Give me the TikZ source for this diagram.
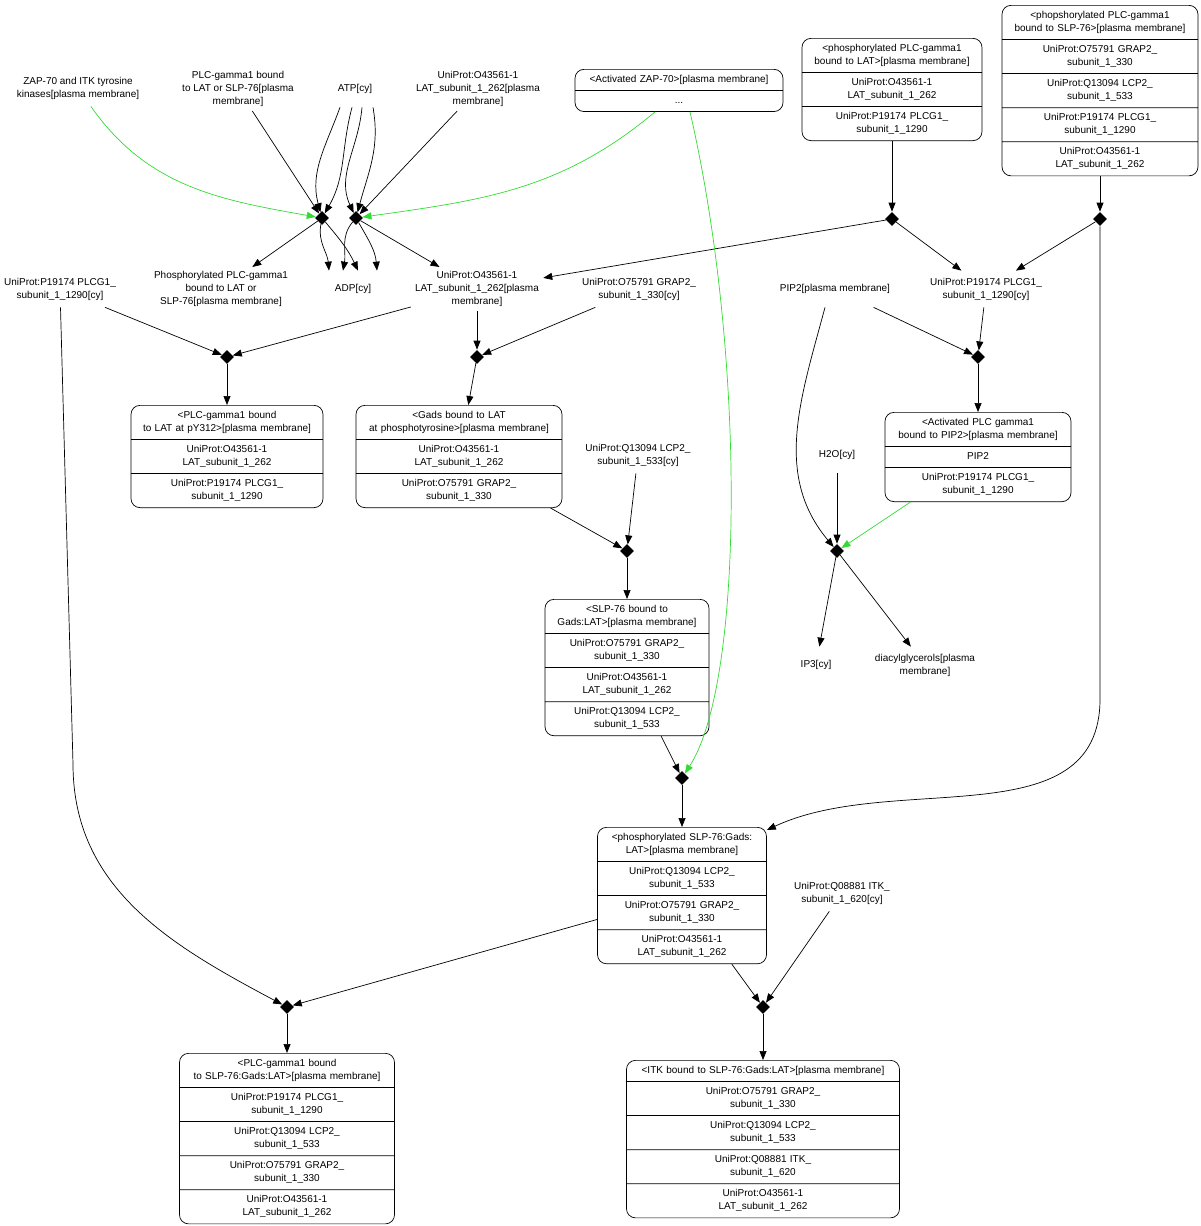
\documentclass[tikz,border=0pt]{standalone}
\usepackage{fontspec}
\setmainfont{Liberation Sans}
\usetikzlibrary{shapes.geometric, shapes.multipart, arrows.meta}
\definecolor{catgreen}{RGB}{50,220,50}
\tikzstyle{every node}=[font=\fontsize{10}{13}\selectfont]
\tikzstyle{lbl}=[align=center, inner sep=4pt, minimum height=36pt]
\tikzstyle{rxn}=[diamond, fill=black, inner sep=0pt, minimum size=14pt]
\tikzstyle{cplx}=[draw, rectangle split, rounded corners=9pt, align=center, inner xsep=0pt, inner ysep=3.7pt, anchor=north]
\tikzstyle{act}=[catgreen]
\newcommand{\rw}[1]{\strut#1\strut}

\begin{document}
\begin{tikzpicture}[>={Triangle[length=9pt,width=7pt]}, x=1pt, y=1pt, line width=0.7pt]
    \useasboundingbox (0,0) rectangle (1200,-1226);
    \node[lbl] (zap) at (78,-88) {ZAP-70 and ITK tyrosine\\kinases[plasma membrane]};
    \node[lbl] (plcbound) at (238,-89) {PLC-gamma1 bound\\to LAT or SLP-76[plasma\\membrane]};
    \node[lbl] (atp) at (355,-89) {ATP[cy]};
    \node[lbl] (lat1) at (478,-89) {UniProt:O43561-1\\LAT\_subunit\_1\_262[plasma\\membrane]};
    \node[cplx, rectangle split parts=2, text width=208pt] (zap70) at (679,-69)
        {\rw{<Activated ZAP-70>[plasma membrane]}\nodepart{two}\rw{...}};
    \node[cplx, rectangle split parts=3, text width=180pt] (plclat) at (892,-38)
        {\rw{<phosphorylated PLC-gamma1\\bound to LAT>[plasma membrane]}
         \nodepart{two}\rw{UniProt:O43561-1\\LAT\_subunit\_1\_262}
         \nodepart{three}\rw{UniProt:P19174 PLCG1\_\\subunit\_1\_1290}};
    \node[cplx, rectangle split parts=5, text width=196pt] (plcslp) at (1100,-5)
        {\rw{<phopshorylated PLC-gamma1\\bound to SLP-76>[plasma membrane]}
         \nodepart{two}\rw{UniProt:O75791 GRAP2\_\\subunit\_1\_330}
         \nodepart{three}\rw{UniProt:Q13094 LCP2\_\\subunit\_1\_533}
         \nodepart{four}\rw{UniProt:P19174 PLCG1\_\\subunit\_1\_1290}
         \nodepart{five}\rw{UniProt:O43561-1\\LAT\_subunit\_1\_262}};

    \node[rxn] (d1) at (322,-218) {};
    \node[rxn] (d2) at (356,-218) {};
    \node[rxn] (d3) at (892,-219) {};
    \node[rxn] (d4) at (1100,-219) {};

    \node[lbl] (plcg1a) at (60,-289) {UniProt:P19174 PLCG1\_\\subunit\_1\_1290[cy]};
    \node[lbl] (pplc) at (221,-289) {Phosphorylated PLC-gamma1\\bound to LAT or\\SLP-76[plasma membrane]};
    \node[lbl] (adp) at (353,-289) {ADP[cy]};
    \node[lbl] (lat2) at (477,-289) {UniProt:O43561-1\\LAT\_subunit\_1\_262[plasma\\membrane]};
    \node[lbl] (grap2a) at (639,-289) {UniProt:O75791 GRAP2\_\\subunit\_1\_330[cy]};
    \node[lbl] (pip2) at (835,-289) {PIP2[plasma membrane]};
    \node[lbl] (plcg1b) at (986,-289) {UniProt:P19174 PLCG1\_\\subunit\_1\_1290[cy]};

    \node[rxn] (d5) at (227,-357) {};
    \node[rxn] (d6) at (477,-357) {};
    \node[rxn] (d8) at (978,-357) {};

    \node[cplx, rectangle split parts=3, text width=192pt] (plclat2) at (227,-405)
        {\rw{<PLC-gamma1 bound\\to LAT at pY312>[plasma membrane]}
         \nodepart{two}\rw{UniProt:O43561-1\\LAT\_subunit\_1\_262}
         \nodepart{three}\rw{UniProt:P19174 PLCG1\_\\subunit\_1\_1290}};
    \node[cplx, rectangle split parts=3, text width=206pt] (gads) at (459,-405)
        {\rw{<Gads bound to LAT\\at phosphotyrosine>[plasma membrane]}
         \nodepart{two}\rw{UniProt:O43561-1\\LAT\_subunit\_1\_262}
         \nodepart{three}\rw{UniProt:O75791 GRAP2\_\\subunit\_1\_330}};
    \node[cplx, rectangle split parts=3, text width=186pt] (actpl) at (978,-412)
        {\rw{<Activated PLC gamma1\\bound to PIP2>[plasma membrane]}
         \nodepart{two}\rw{PIP2}
         \nodepart{three}\rw{UniProt:P19174 PLCG1\_\\subunit\_1\_1290}};

    \node[lbl] (lcp2a) at (638,-455) {UniProt:Q13094 LCP2\_\\subunit\_1\_533[cy]};
    \node[lbl] (h2o) at (837,-455) {H2O[cy]};

    \node[rxn] (d9) at (627,-551) {};
    \node[rxn] (d10) at (837,-551) {};

    \node[cplx, rectangle split parts=4, text width=164pt] (slp) at (627,-599)
        {\rw{<SLP-76 bound to\\Gads:LAT>[plasma membrane]}
         \nodepart{two}\rw{UniProt:O75791 GRAP2\_\\subunit\_1\_330}
         \nodepart{three}\rw{UniProt:O43561-1\\LAT\_subunit\_1\_262}
         \nodepart{four}\rw{UniProt:Q13094 LCP2\_\\subunit\_1\_533}};
    \node[lbl] (ip3) at (816,-665) {IP3[cy]};
    \node[lbl] (dag) at (925,-665) {diacylglycerols[plasma\\membrane]};

    \node[rxn] (d7) at (682,-778) {};

    \node[cplx, rectangle split parts=4, text width=169pt] (pslp) at (682,-827)
        {\rw{<phosphorylated SLP-76:Gads:\\LAT>[plasma membrane]}
         \nodepart{two}\rw{UniProt:Q13094 LCP2\_\\subunit\_1\_533}
         \nodepart{three}\rw{UniProt:O75791 GRAP2\_\\subunit\_1\_330}
         \nodepart{four}\rw{UniProt:O43561-1\\LAT\_subunit\_1\_262}};
    \node[lbl] (itk) at (842,-893) {UniProt:Q08881 ITK\_\\subunit\_1\_620[cy]};

    \node[rxn] (d11) at (287,-1007) {};
    \node[rxn] (d12) at (763,-1007) {};

    \node[cplx, rectangle split parts=5, text width=215pt] (plcsg) at (287,-1053)
        {\rw{<PLC-gamma1 bound\\to SLP-76:Gads:LAT>[plasma membrane]}
         \nodepart{two}\rw{UniProt:P19174 PLCG1\_\\subunit\_1\_1290}
         \nodepart{three}\rw{UniProt:Q13094 LCP2\_\\subunit\_1\_533}
         \nodepart{four}\rw{UniProt:O75791 GRAP2\_\\subunit\_1\_330}
         \nodepart{five}\rw{UniProt:O43561-1\\LAT\_subunit\_1\_262}};
    \node[cplx, rectangle split parts=5, text width=273pt] (itkbox) at (763,-1060)
        {\rw{<ITK bound to SLP-76:Gads:LAT>[plasma membrane]}
         \nodepart{two}\rw{UniProt:O75791 GRAP2\_\\subunit\_1\_330}
         \nodepart{three}\rw{UniProt:Q13094 LCP2\_\\subunit\_1\_533}
         \nodepart{four}\rw{UniProt:Q08881 ITK\_\\subunit\_1\_620}
         \nodepart{five}\rw{UniProt:O43561-1\\LAT\_subunit\_1\_262}};

    \draw[->, act] (zap) to[out=-55,in=170] (d1);
    \draw[->] (plcbound) -- (d1);
    \draw[->] ([xshift=-15pt]atp.south) to[out=-110,in=105] (d1);
    \draw[->] ([xshift=-3pt]atp.south) to[out=-105,in=60] (d1);
    \draw[->] ([xshift=7pt]atp.south) to[out=-95,in=115] (d2);
    \draw[->] ([xshift=18pt]atp.south) to[out=-80,in=75] (d2);
    \draw[->] (lat1) -- (d2);
    \draw[->, act] ([xshift=-24pt]zap70.south) to[out=-140,in=8] (d2);
    \draw[->] (d1) to[out=-100,in=95] ([xshift=-24pt]adp.north);
    \draw[->] (d1) to[out=-50,in=115] ([xshift=5pt]adp.north);
    \draw[->] (d2) to[out=-130,in=80] ([xshift=-10pt]adp.north);
    \draw[->] (d2) to[out=-60,in=95] ([xshift=24pt]adp.north);
    \draw[->] (d1) -- (pplc);
    \draw[->] (d2) -- (lat2);
    \draw[->] (plclat) -- (d3);
    \draw[->] (plcslp) -- (d4);
    \draw[->] (d3) -- (lat2);
    \draw[->] (d3) -- (plcg1b);
    \draw[->] (d4) -- (plcg1b);
    \draw[->] (d4) -- ++(0,-480) to[out=-90,in=25] ([yshift=-3pt]pslp.north east);
    \draw[->, act] ([xshift=11pt]zap70.south) .. controls (745,-350) and (745,-680) .. (d7);

    \draw[->] (plcg1a) -- (d5);
    \draw[->] (lat2) -- (d5);
    \draw[->] (lat2) -- (d6);
    \draw[->] (grap2a) -- (d6);
    \draw[->] (d5) -- (plclat2);
    \draw[->] (d6) -- (gads);
    \draw[->] (pip2) -- (d8);
    \draw[->] (plcg1b) -- (d8);
    \draw[->] (d8) -- (actpl);
    \draw[->] ([xshift=-10pt]pip2.south) to[out=-105,in=130] (d10);

    \draw[->] (gads) -- (d9);
    \draw[->] (lcp2a) -- (d9);
    \draw[->] (d9) -- (slp);
    \draw[->] (h2o) -- (d10);
    \draw[->, act] (actpl) -- (d10);
    \draw[->] (d10) -- (ip3);
    \draw[->] (d10) -- (dag);
    \draw[->] (slp) -- (d7);
    \draw[->] (d7) -- (pslp);

    \draw[->] (pslp) -- (d11);
    \draw[->] (pslp) -- (d12);
    \draw[->] (itk) -- (d12);
    \draw[->] (plcg1a) -- ++(13,-475) to[out=-90,in=152] (d11);
    \draw[->] (d11) -- (plcsg);
    \draw[->] (d12) -- (itkbox);
\end{tikzpicture}
\end{document}
